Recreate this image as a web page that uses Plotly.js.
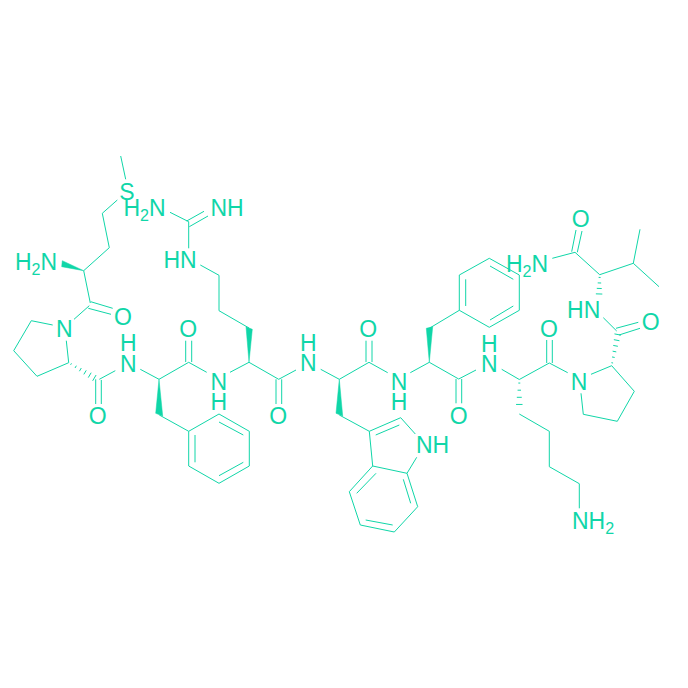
<!DOCTYPE html>
<html><head><meta charset="utf-8">
<script src="https://cdn.plot.ly/plotly-3.0.1.min.js"></script>
<style>html,body{margin:0;padding:0;background:#fff}#c{width:688px;height:688px}</style>
</head><body><div id="c"></div>
<script>
const INK = '#10d6a8';
// Skeleton bonds: each entry is a polyline of [x, y] atom positions.
const metBonds = [
 [[120.7,156],[125.7,179.3]],
 [[117.3,200],[102.3,213.3],[109.3,247.7],[83.7,270.7],[90.3,303]],
 [[90.7,301.7],[112.7,308.3]],
 [[88.3,308.3],[111,314.3]],
 [[89.3,305.7],[74,319.3]]
];
const pro1Bonds = [
 [[52.7,325],[31.3,320.7],[13.7,350.7],[37,376.3],[68.7,362.7],[66.3,340.7]],
 [[95.7,379.3],[95.7,404]],
 [[101.3,380],[101.3,404]],
 [[99.3,379.3],[115.3,370.7]]
];
const phe1Bonds = [
 [[140.3,369.3],[159,379.3],[188.7,362.3],[206.7,372.3]],
 [[185.7,362],[185.7,340.7]],
 [[191.7,362],[191.7,340.7]],
 [[159.3,415],[188.7,431.3],[219,414],[249.3,431.3],[249.3,466],[219,483.3],[188.7,466],[188.7,431.3]],
 [[195,435],[195,462.3]],
 [[219,422],[243.3,435]],
 [[243.3,462.3],[219,475.7]]
];
const argBonds = [
 [[230,372.3],[249,362.3],[278.7,379.3],[296,370]],
 [[249,328],[219,310.7],[219,275.3],[200.3,265]],
 [[188.7,248.3],[188.7,221.7]],
 [[170,212.3],[188.7,221.7]],
 [[186.7,221],[204,211.3]],
 [[189.3,226.7],[208,216]],
 [[276,379.3],[276,404]],
 [[281.7,379.3],[281.7,404]]
];
const trpBonds = [
 [[320.7,369.3],[339.3,379.3],[369,362.3],[387.7,372.7]],
 [[366,362],[366,340.7]],
 [[372,362],[372,340.7]],
 [[339.3,415],[369.3,431.3],[400.7,417.7],[415.3,434]],
 [[416.7,457.3],[407,473.3],[372.7,466],[369.3,431.3]],
 [[375.7,435],[399.3,425]],
 [[372.7,466],[349.3,491.7],[360.3,525],[394.3,532],[417.7,506.7],[407,473.3]],
 [[376,473.3],[356.7,493.3]],
 [[365.7,520],[392.7,525]],
 [[410.7,503.3],[403.3,479.3]]
];
const phe2Bonds = [
 [[410.3,372.7],[429.3,362.3],[458.7,379],[476,370]],
 [[429.3,328.3],[459.3,310.3],[459.3,275],[489.3,258.3],[519.3,275],[519.3,310.3],[489.3,327.3],[459.3,310.3]],
 [[465.7,279.3],[465.7,306]],
 [[490,266],[513.3,279.3]],
 [[490,320],[513.3,306]],
 [[456,379],[456,403.3]],
 [[461.7,379],[461.7,403.3]]
];
const lysBonds = [
 [[501.7,369.3],[519.3,379.5],[549.3,363],[567.7,372.7]],
 [[546.7,363],[546.7,340]],
 [[552.3,363],[552.3,340]],
 [[519.3,414],[549.3,431.3],[549.3,466.7],[579.3,483.7],[579.3,508.3]]
];
const pro2Bonds = [
 [[591,374.3],[611.7,365.7],[634.3,391.3],[617.3,421.3],[583.3,414.3],[581,393.3]],
 [[616,328.3],[638.3,322.3]],
 [[619,335],[640,328.3]],
 [[603.3,317.7],[616.7,331]]
];
const valBonds = [
 [[552.3,258.3],[575,252.3],[599.7,274.7],[633.3,263.3],[640,229.3]],
 [[633.3,263.3],[659,286.7]],
 [[571.7,251.7],[576,230]],
 [[577.3,252.3],[582,231]]
];
// Solid wedge bonds: tip, then the two corners of the wide end.
const wedges = [
 [[83.7,270.7],[62.3,260.7],[61.7,266.7]],
 [[159,379.3],[155.7,413.3],[162.7,416]],
 [[249,362.3],[246,326.7],[252.3,329.3]],
 [[339.3,379.3],[336,413.3],[342.7,416]],
 [[429.3,362.3],[426.3,328.3],[432.7,326.7]]
];
// Hashed wedge bonds: narrow end, wide end, number of hashes.
const hashes = [
 [[68.7,362.7],[96.7,379.3],6],
 [[519.3,379.5],[519.3,408],4],
 [[611.7,365.7],[618.3,331.7],6],
 [[599.7,274.7],[599,296.7],4]
];
// Atom labels.
const atomText = ['S','H<sub>2</sub>N','NH','HN','H<sub>2</sub>N','O','N','O','N','H','O','N','H','O','N','H','O','N','H','O','NH','H<sub>2</sub>N','O','HN','O','N','O','N','H','NH<sub>2</sub>'];
const atomX = [127,144.5,227,180,36,123,64.3,97.7,128.3,128.3,188.3,218.7,218.7,278.3,308.3,308.3,368.3,399,399,458.7,432.5,527,580.7,583.7,650.7,579,549,489.3,489.3,593];
const atomY = [194.3,210.3,210.3,262.3,264.3,319,331.6,418.3,366.3,345.6,331.6,384,404,418.3,365.6,345.6,331.6,384,404,418.3,447.3,266.3,221.3,312.3,324.6,384,331.6,366.3,346.3,523];

const traces = [];
const bondGroups = [metBonds,pro1Bonds,phe1Bonds,argBonds,trpBonds,phe2Bonds,lysBonds,pro2Bonds,valBonds];
bondGroups.forEach(g=>{
  const x=[],y=[];
  g.forEach(l=>{l.forEach(p=>{x.push(p[0]);y.push(p[1]);});x.push(null);y.push(null);});
  traces.push({type:'scatter',mode:'lines',x,y,line:{color:INK,width:1},hoverinfo:'skip',showlegend:false});
});
wedges.forEach(w=>{
  traces.push({type:'scatter',mode:'lines',x:w.map(p=>p[0]).concat(w[0][0]),y:w.map(p=>p[1]).concat(w[0][1]),
    fill:'toself',fillcolor:INK,line:{color:INK,width:0.5},hoverinfo:'skip',showlegend:false});
});
const hx=[],hy=[];
hashes.forEach(h=>{
  const [a,b,n]=h, dx=b[0]-a[0], dy=b[1]-a[1], L=Math.hypot(dx,dy), px=-dy/L, py=dx/L;
  for(let i=0;i<n;i++){
    const t=(i+0.5)/n, r=0.6+3*t;
    const cx=a[0]+dx*t, cy=a[1]+dy*t;
    hx.push(cx-px*r,cx+px*r,null); hy.push(cy-py*r,cy+py*r,null);
  }
});
traces.push({type:'scatter',mode:'lines',x:hx,y:hy,line:{color:INK,width:1},hoverinfo:'skip',showlegend:false});
traces.push({type:'scatter',mode:'text',x:atomX,y:atomY,text:atomText,textposition:'middle center',
  textfont:{family:'"Liberation Sans",Arial,sans-serif',size:23,color:INK},hoverinfo:'skip',showlegend:false});

Plotly.newPlot('c',traces,{
  width:688,height:688,margin:{l:0,r:0,t:0,b:0},
  paper_bgcolor:'#fff',plot_bgcolor:'#fff',showlegend:false,
  xaxis:{range:[0,688],visible:false,fixedrange:true},
  yaxis:{range:[688,0],visible:false,fixedrange:true}
},{staticPlot:true,displayModeBar:false});
</script></body></html>
